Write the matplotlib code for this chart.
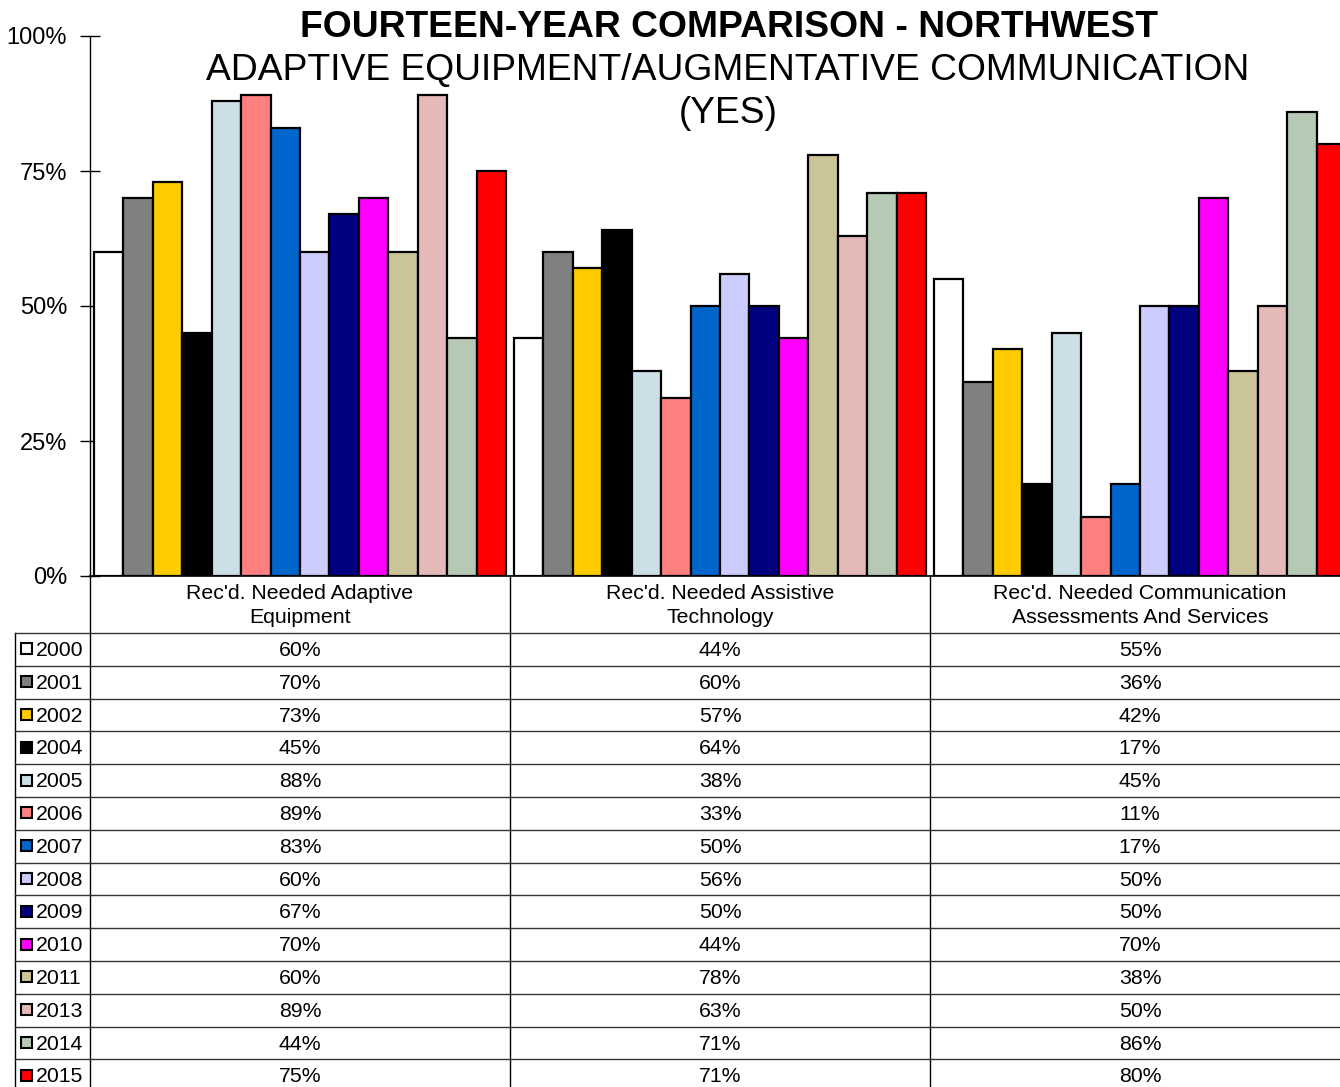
import numpy as np
import matplotlib.pyplot as plt

plt.rcParams['font.family'] = ['Liberation Sans', 'DejaVu Sans']

categories = ["Rec'd. Needed Adaptive\nEquipment",
              "Rec'd. Needed Assistive\nTechnology",
              "Rec'd. Needed Communication\nAssessments And Services"]
years = ['2000', '2001', '2002', '2004', '2005', '2006', '2007',
         '2008', '2009', '2010', '2011', '2013', '2014', '2015']
values = [
    [60, 44, 55],
    [70, 60, 36],
    [73, 57, 42],
    [45, 64, 17],
    [88, 38, 45],
    [89, 33, 11],
    [83, 50, 17],
    [60, 56, 50],
    [67, 50, 50],
    [70, 44, 70],
    [60, 78, 38],
    [89, 63, 50],
    [44, 71, 86],
    [75, 71, 80],
]
colors = ['#FFFFFF', '#808080', '#FFCC00', '#000000', '#CCDFE6', '#FF8080',
          '#0066CC', '#CCCCFF', '#000080', '#FF00FF', '#CCC499', '#E6B9B9',
          '#B5C9B5', '#FF0000']

W, H = 1340, 1087
fig = plt.figure(figsize=(W / 100, H / 100), dpi=100)

# pixel layout
x0, y_top, y_zero = 90, 36, 576
grp_w = 420
ax = fig.add_axes([x0 / W, (H - y_zero) / H, 3 * grp_w / W, (y_zero - y_top) / H])

n = len(years)
bw = 1 / 14.25
start = -0.5 + (1 - n * bw) / 2
x = np.arange(len(categories))
for i, yr in enumerate(years):
    ax.bar(x + start + bw * (i + 0.5), values[i], width=bw, color=colors[i],
           edgecolor='black', linewidth=1.6, label=yr, zorder=3)

ax.set_xlim(-0.5, 2.5)
ax.set_ylim(0, 100)
ax.set_yticks([0, 25, 50, 75, 100])
ax.set_yticklabels(['0%', '25%', '50%', '75%', '100%'], fontsize=17)
ax.tick_params(axis='y', direction='inout', length=14, width=1, pad=9.5)
ax.set_xticks([])
for s in ['top', 'right']:
    ax.spines[s].set_visible(False)
ax.spines['left'].set_linewidth(1)
ax.spines['bottom'].set_linewidth(1.2)
ax.patch.set_alpha(0)

# titles
fig.text(729 / W, 1 - 37 / H, 'FOURTEEN-YEAR COMPARISON - NORTHWEST', ha='center', va='baseline',
         fontsize=26.8, fontweight='bold')
fig.text(728 / W, 1 - 80 / H, 'ADAPTIVE EQUIPMENT/AUGMENTATIVE COMMUNICATION', ha='center',
         va='baseline', fontsize=26.8)
fig.text(728 / W, 1 - 123 / H, '(YES)', ha='center', va='baseline', fontsize=26.8)

# data table
tb = fig.add_axes([0, 0, 1, 1], zorder=-1)
tb.set_xlim(0, W)
tb.set_ylim(H, 0)
tb.axis('off')

row_h = 32.8
head_bot = 633
fs = 15.3
tb.plot([x0, x0], [y_zero, H + 5], color='black', lw=1)
for k in range(1, 3):
    xl = x0 + k * grp_w
    tb.plot([xl, xl], [y_zero, H + 5], color='black', lw=1)
tb.plot([15, 15], [head_bot, H + 5], color='black', lw=1)
for r in range(n + 1):
    yl = head_bot + r * row_h
    tb.plot([15, W], [yl, yl], color='#333333', lw=1)

for k, cat in enumerate(categories):
    tb.text(x0 + (k + 0.5) * grp_w, (y_zero + head_bot) / 2 + 1, cat, ha='center', va='center',
            fontsize=fs, linespacing=1.27)

for i, yr in enumerate(years):
    yc = head_bot + (i + 0.5) * row_h
    tb.add_patch(plt.Rectangle((20.5, yc - 6), 11, 11, facecolor=colors[i],
                               edgecolor='black', lw=1.5))
    tb.text(36, yc + 1, yr, ha='left', va='center', fontsize=fs)
    for k in range(len(categories)):
        tb.text(x0 + (k + 0.5) * grp_w, yc + 1, f'{values[i][k]}%', ha='center',
                va='center', fontsize=fs)

fig.savefig('out.png', dpi=100)
